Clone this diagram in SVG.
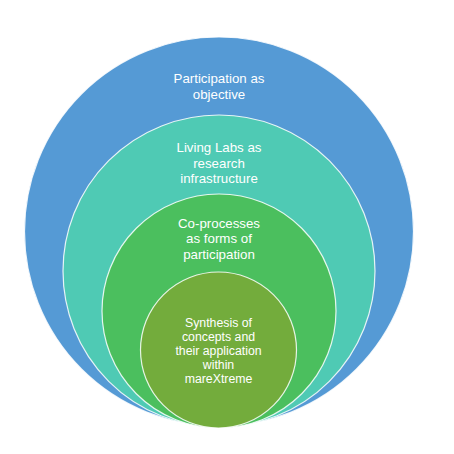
<svg xmlns="http://www.w3.org/2000/svg" width="454" height="454" viewBox="0 0 454 454">
<style>
.c{stroke:#ffffff;stroke-width:1.2;stroke-opacity:0.85}
.t{font-family:"Liberation Sans",Arial,sans-serif;font-size:13.3px;fill:#ffffff;text-anchor:middle}
.s{font-size:12.3px}
</style>
<rect width="454" height="454" fill="#ffffff"/>
<g id="node-participation">
<circle class="c" cx="219" cy="231.5" r="194.5" fill="#559AD5"/>
<text class="t" x="219" y="83">Participation as</text>
<text class="t" x="219" y="98.5">objective</text>
</g>
<g id="node-livinglabs">
<circle class="c" cx="219" cy="271" r="156" fill="#4FCAB4"/>
<text class="t" x="219" y="152">Living Labs as</text>
<text class="t" x="219" y="167.5">research</text>
<text class="t" x="219" y="183">infrastructure</text>
</g>
<g id="node-coprocesses">
<circle class="c" cx="219" cy="311" r="117" fill="#4BBF5E"/>
<text class="t" x="219" y="227.5">Co-processes</text>
<text class="t" x="219" y="243">as forms of</text>
<text class="t" x="219" y="258.5">participation</text>
</g>
<g id="node-synthesis">
<circle class="c" cx="218.5" cy="350" r="78" fill="#73AC3C"/>
<text class="t s" x="218.5" y="327">Synthesis of</text>
<text class="t s" x="218.5" y="341">concepts and</text>
<text class="t s" x="218.5" y="355">their application</text>
<text class="t s" x="218.5" y="369">within</text>
<text class="t s" x="218.5" y="383">mareXtreme</text>
</g>
<g id="connectors"/>
</svg>
